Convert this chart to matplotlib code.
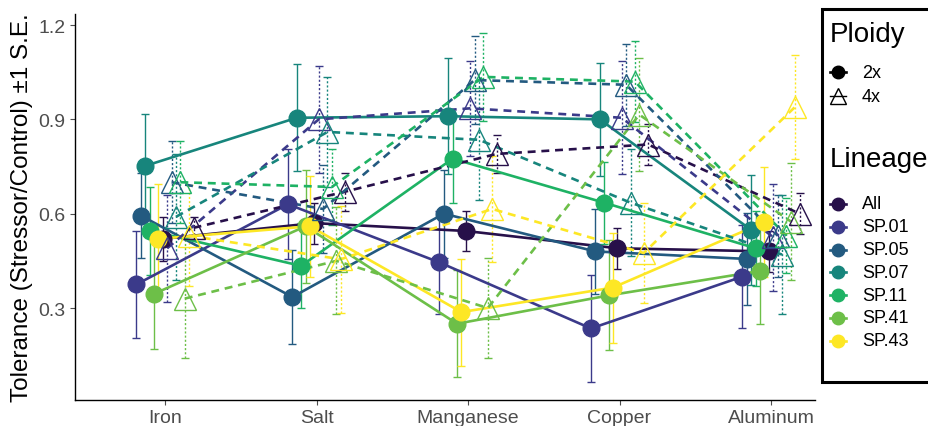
import matplotlib
matplotlib.use("Agg")
import matplotlib.pyplot as plt
from matplotlib.lines import Line2D
import numpy as np

plt.rcParams["font.family"] = ["Liberation Sans", "DejaVu Sans"]

stressors = ["Iron", "Salt", "Manganese", "Copper", "Aluminum"]
lineages = ["All", "SP.01", "SP.05", "SP.07", "SP.11", "SP.41", "SP.43"]
lineage_colors = ["#27104a", "#3b3a8a", "#235a80", "#17857c", "#1eb264", "#6dbf48", "#fde725"]
ploidy_levels = ["2x", "4x"]

# mean tolerance, rows follow `lineages`, columns follow `stressors`
mean_2x = [
    [0.52, 0.57, 0.545, 0.49, 0.48],
    [0.375, 0.63, 0.445, 0.235, 0.40],
    [0.594, 0.335, 0.60, 0.48, 0.456],
    [0.752, 0.905, 0.91, 0.90, 0.548],
    [0.546, 0.434, 0.775, 0.635, 0.49],
    [0.345, 0.56, 0.25, 0.34, 0.418],
    [0.52, 0.56, 0.287, 0.365, 0.573],
]
se_2x = [
    [0.07, 0.065, 0.065, 0.065, 0.065],
    [0.17, 0.175, 0.165, 0.17, 0.165],
    [0.135, 0.15, 0.14, 0.135, 0.145],
    [0.165, 0.17, 0.185, 0.18, 0.175],
    [0.14, 0.135, 0.14, 0.13, 0.12],
    [0.175, 0.18, 0.17, 0.175, 0.17],
    [0.175, 0.16, 0.17, 0.175, 0.175],
]
mean_4x = [
    [0.555, 0.67, 0.79, 0.82, 0.60],
    [0.49, 0.90, 0.935, 0.905, 0.525],
    [0.70, 0.615, 1.025, 1.01, 0.53],
    [0.59, 0.86, 0.835, 0.635, 0.47],
    [0.70, 0.685, 1.035, 1.02, 0.53],
    [0.33, 0.45, 0.30, 0.915, 0.575],
    [0.53, 0.455, 0.615, 0.475, 0.94],
]
se_4x = [
    [0.035, 0.06, 0.06, 0.065, 0.065],
    [0.17, 0.17, 0.15, 0.18, 0.17],
    [0.13, 0.14, 0.14, 0.13, 0.13],
    [0.2, 0.175, 0.19, 0.17, 0.19],
    [0.13, 0.12, 0.14, 0.13, 0.12],
    [0.19, 0.17, 0.16, 0.18, 0.185],
    [0.16, 0.17, 0.17, 0.16, 0.165],
]

# dodge order inside each stressor: SP lineages first, pooled "All" last
dodge_rank = {"SP.01": 0, "SP.05": 1, "SP.07": 2, "SP.11": 3, "SP.41": 4, "SP.43": 5, "All": 6}
DODGE = 0.029

fig = plt.figure(figsize=(9.29, 4.27), dpi=100)
ax = fig.add_axes([75 / 929, 26 / 427, 740 / 929, 386 / 427])

x = np.arange(1, len(stressors) + 1)

for p, (means, ses) in enumerate([(mean_2x, se_2x), (mean_4x, se_4x)]):
    for i, lin in enumerate(lineages):
        col = lineage_colors[i]
        xs = x + (p * 7 + dodge_rank[lin] - 6.5) * DODGE
        m = np.array(means[i])
        s = np.array(ses[i])
        eb = ax.errorbar(xs, m, yerr=s, fmt="none", ecolor=col, elinewidth=1.0,
                         capsize=2.6, capthick=1.0, zorder=2)
        if p == 1:
            eb[2][0].set_linestyle((0, (1.5, 1.5)))
        ls = "-" if p == 0 else (0, (3, 2.2))
        ax.plot(xs, m, color=col, lw=1.9, ls=ls, zorder=3)
        if p == 0:
            ax.plot(xs, m, "o", color=col, ms=12, mec=col, zorder=4)
        else:
            ax.plot(xs, m, "^", mfc="none", mec=col, ms=16, mew=1.0, zorder=4)

ax.set_xlim(0.406, 5.29)
ax.set_ylim(0.0075, 1.235)
ax.set_xticks(x)
ax.set_xticklabels(stressors)
ax.set_yticks([0.3, 0.6, 0.9, 1.2])
ax.set_yticklabels(["0.3", "0.6", "0.9", "1.2"])
ax.tick_params(labelsize=14, colors="#4d4d4d", length=3.5, width=0.8)
ax.tick_params(axis="x", labelcolor="#4d4d4d", pad=3)
for side in ["top", "right"]:
    ax.spines[side].set_visible(False)
for side in ["left", "bottom"]:
    ax.spines[side].set_linewidth(1.0)
    ax.spines[side].set_color("black")
ax.set_ylabel("Tolerance (Stressor/Control) \u00b11 S.E.", fontsize=17.5, labelpad=4)

# legend panel, drawn in pixel-like units from the top-left corner of the box;
# the box runs past the right edge of the figure
leg = fig.add_axes([822 / 929, 44 / 427, 400 / 929, 373 / 427])
leg.set_xlim(0, 400)
leg.set_ylim(373, 0)
leg.set_xticks([])
leg.set_yticks([])
leg.set_frame_on(False)
leg.add_line(Line2D([400, 0, 0, 400], [0, 0, 373, 373], color="black", lw=2.2,
                    solid_joinstyle="miter", clip_on=False))

leg.text(8, 25, "Ploidy", fontsize=20, va="center", ha="left")
leg.text(8, 150, "Lineage", fontsize=20, va="center", ha="left")

for k, lab in enumerate(ploidy_levels):
    yk = 63 + k * 24
    if k == 0:
        leg.add_line(Line2D([8, 24], [yk, yk], color="black", lw=1.9))
        leg.add_line(Line2D([16], [yk], marker="o", color="black", ms=9))
    else:
        leg.add_line(Line2D([8, 24], [yk, yk], color="black", lw=1.0))
        leg.add_line(Line2D([16], [yk], marker="^", mfc="none", mec="black", ms=11, mew=1.0))
    leg.text(40, yk, lab, fontsize=13, va="center", ha="left")

for i, lin in enumerate(lineages):
    yk = 195 + i * 22.8
    leg.add_line(Line2D([8, 24], [yk, yk], color=lineage_colors[i], lw=1.9))
    leg.add_line(Line2D([16], [yk], marker="o", color=lineage_colors[i], ms=9))
    leg.text(40, yk, lin, fontsize=13, va="center", ha="left")

fig.savefig("out.png", dpi=100)
